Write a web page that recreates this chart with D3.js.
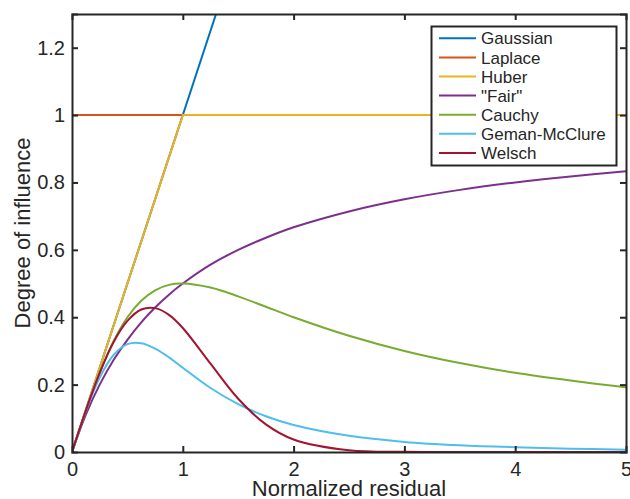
<!DOCTYPE html>
<html>
<head>
<meta charset="utf-8">
<script src="https://cdn.jsdelivr.net/npm/d3@7"></script>
<style>
  body { margin: 0; background: #fff; }
  text { font-family: Arial, "Liberation Sans", Helvetica, sans-serif; fill: #262626; }
</style>
</head>
<body>
<div id="chart"></div>
<script>
// values
const xs = [0, 0.125, 0.25, 0.375, 0.5, 0.625, 0.75, 0.875, 1, 1.25, 1.5, 1.75, 2, 2.5, 3, 3.5, 4, 4.5, 5];
const gaussianX = [0, 1.3], gaussianY = [0, 1.3];
const laplaceX = [0, 5], laplaceY = [1, 1];
const huberX = [0, 1, 5], huberY = [0, 1, 1];
const fairY =    [0, 0.111, 0.2, 0.273, 0.333, 0.385, 0.429, 0.467, 0.5, 0.556, 0.6, 0.636, 0.667, 0.714, 0.75, 0.778, 0.8, 0.818, 0.833];
const cauchyY =  [0, 0.123, 0.235, 0.329, 0.4, 0.449, 0.48, 0.496, 0.5, 0.488, 0.462, 0.431, 0.4, 0.345, 0.3, 0.264, 0.235, 0.212, 0.192];
const gemanY =   [0, 0.121, 0.221, 0.288, 0.32, 0.323, 0.307, 0.281, 0.25, 0.19, 0.142, 0.106, 0.08, 0.048, 0.03, 0.02, 0.014, 0.01, 0.007];
const welschY =  [0, 0.123, 0.235, 0.326, 0.389, 0.423, 0.427, 0.407, 0.368, 0.262, 0.158, 0.082, 0.037, 0.005, 0.0004, 0, 0, 0, 0];
const names = ["Gaussian", "Laplace", "Huber", "\"Fair\"", "Cauchy", "Geman-McClure", "Welsch"];
const colors = ["#0072BD", "#D95319", "#EDB120", "#7E2F8E", "#77AC30", "#4DBEEE", "#A2142F"];
const xTicks = [0, 1, 2, 3, 4, 5];
const yTicks = [0, 0.2, 0.4, 0.6, 0.8, 1, 1.2];

const zip = (a, b) => a.map((v, i) => [v, b[i]]);
const series = [
  {pts: zip(gaussianX, gaussianY), smooth: false},
  {pts: zip(laplaceX, laplaceY), smooth: false},
  {pts: zip(huberX, huberY), smooth: false},
  {pts: zip(xs, fairY), smooth: true},
  {pts: zip(xs, cauchyY), smooth: true},
  {pts: zip(xs, gemanY), smooth: true},
  {pts: zip(xs, welschY), smooth: true}
];

var width = 630, height = 499;
var margin = {left: 72, top: 14, right: 4, bottom: 47};

var x = d3.scaleLinear().domain([0, 5]).range([margin.left, width - margin.right]);
var y = d3.scaleLinear().domain([0, 1.3]).range([height - margin.bottom, margin.top]);

var svg = d3.select("#chart").append("svg")
  .attr("width", width).attr("height", height);

svg.append("clipPath").attr("id", "clip")
  .append("rect")
  .attr("x", x(0)).attr("y", y(1.3))
  .attr("width", x(5) - x(0)).attr("height", y(0) - y(1.3));

var straight = d3.line()
  .x(d => x(d[0]))
  .y(d => y(d[1]));

var smooth = d3.line()
  .x(d => x(d[0]))
  .y(d => y(d[1]))
  .curve(d3.curveCatmullRom.alpha(0.5));

svg.append("g").attr("clip-path", "url(#clip)")
  .selectAll("path")
  .data(series)
  .enter()
  .append("path")
  .attr("d", d => d.smooth ? smooth(d.pts) : straight(d.pts))
  .attr("fill", "none")
  .attr("stroke", (d, i) => colors[i])
  .attr("stroke-width", 2);

// axes with inward ticks on all four sides
var axisColor = "#262626";
var tl = 6;

var xb = svg.append("g").attr("transform", `translate(0,${y(0)})`)
  .call(d3.axisBottom(x).tickValues(xTicks).tickSize(-tl).tickPadding(10).tickFormat(d3.format("d")));
var xt = svg.append("g").attr("transform", `translate(0,${y(1.3)})`)
  .call(d3.axisTop(x).tickValues(xTicks).tickSize(-tl).tickFormat(""));
var yl = svg.append("g").attr("transform", `translate(${x(0)},0)`)
  .call(d3.axisLeft(y).tickValues(yTicks).tickSize(-tl).tickPadding(7).tickFormat(d => d3.format("")(+d.toFixed(1))));
var yr = svg.append("g").attr("transform", `translate(${x(5)},0)`)
  .call(d3.axisRight(y).tickValues(yTicks).tickSize(-tl).tickFormat(""));

[xb, xt, yl, yr].forEach(g => {
  g.select(".domain").attr("stroke", axisColor).attr("stroke-width", 2);
  g.selectAll(".tick line").attr("stroke", axisColor).attr("stroke-width", 2);
  g.selectAll(".tick text").attr("fill", axisColor).style("font-size", "20px")
    .style("font-family", "Arial, 'Liberation Sans', Helvetica, sans-serif");
});
// the end ticks sit on the box itself
xb.selectAll(".tick line").filter(d => d === 0 || d === 5).remove();
xt.selectAll(".tick line").filter(d => d === 0 || d === 5).remove();
yl.selectAll(".tick line").filter(d => d === 0).remove();
yr.selectAll(".tick line").filter(d => d === 0).remove();

svg.append("text")
  .attr("x", (x(0) + x(5)) / 2)
  .attr("y", 496)
  .attr("text-anchor", "middle")
  .style("font-size", "22px")
  .text("Normalized residual");

svg.append("text")
  .attr("transform", `translate(30,${(y(0) + y(1.3)) / 2}) rotate(-90)`)
  .attr("text-anchor", "middle")
  .style("font-size", "22px")
  .text("Degree of influence");

// legend
var lg = svg.append("g");
lg.append("rect")
  .attr("x", 431.5).attr("y", 26.5)
  .attr("width", 185).attr("height", 139)
  .attr("fill", "#fff")
  .attr("stroke", axisColor)
  .attr("stroke-width", 2);

var item = lg.selectAll(".item")
  .data(names)
  .enter()
  .append("g")
  .attr("transform", (d, i) => `translate(0,${38.3 + i * 19.1})`);

item.append("line")
  .attr("x1", 439).attr("x2", 476)
  .attr("stroke", (d, i) => colors[i])
  .attr("stroke-width", 2);

item.append("text")
  .attr("x", 481)
  .attr("dy", "0.36em")
  .style("font-size", "17px")
  .text(d => d);
</script>
</body>
</html>
